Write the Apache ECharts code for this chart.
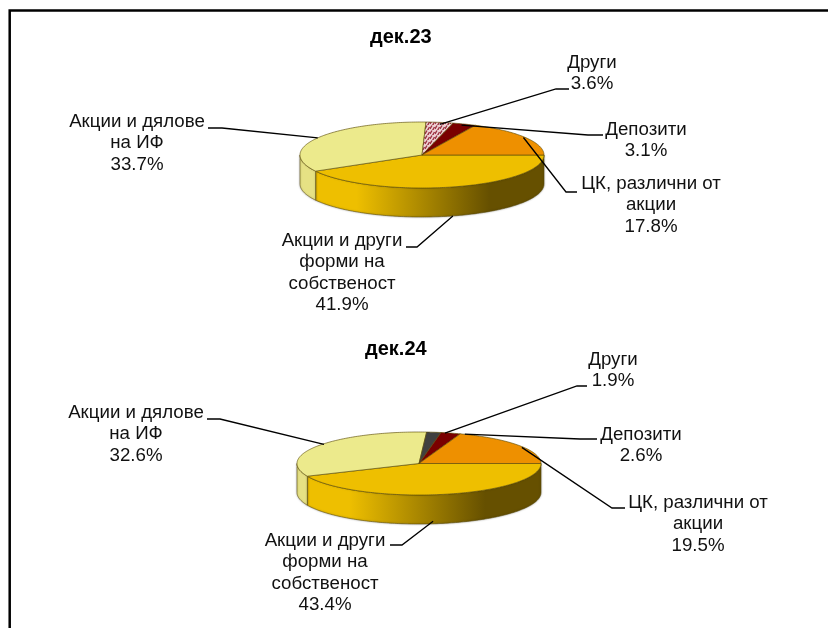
<!DOCTYPE html>
<html><head><meta charset="utf-8">
<style>html,body{margin:0;padding:0;background:#fff}#c{width:828px;height:628px}</style>
<script src="https://cdn.jsdelivr.net/npm/echarts@6/dist/echarts.min.js"></script>
</head><body><div id="c"></div>
<script>
const categories = ['Акции и други\nформи на\nсобственост','Акции и дялове\nна ИФ','Други','Депозити','ЦК, различни от\nакции'];
const titles = ['дек.23','дек.24'];
const values23 = [41.9,33.7,3.6,3.1,17.8];
const values24 = [43.4,32.6,1.9,2.6,19.5];

const FONT = '18.7px "Liberation Sans", Arial, sans-serif';
const LH = 21.5;

function hatch(){
  const s=5, c=document.createElement('canvas'); c.width=s; c.height=s;
  const g=c.getContext('2d');
  g.fillStyle='#efd4d6'; g.fillRect(0,0,s,s);
  g.strokeStyle='#9c3242'; g.lineWidth=1.4;
  g.beginPath(); g.moveTo(0,4); g.lineTo(2,0.5); g.moveTo(2.5,5.5); g.lineTo(4.5,2); g.stroke();
  return {image:c,repeat:'repeat'};
}
const wallGold = new echarts.graphic.LinearGradient(0,0,1,0,[
  {offset:0,color:'#EEBF00'},{offset:.18,color:'#EEBF00'},{offset:.76,color:'#665000'},{offset:1,color:'#665000'}]);

const pieStyle = [
  {top:['#EEBF00','#ECEA8C',hatch(),'#7A0000','#EE9000'], gridL:300, gridT:122, rx:244, ry:66,
   labels:[
    {x:342,y:230,lx:[406,417],ly:247,dx:0,dy:0},{x:137,y:111,lx:[208,222],ly:128,dx:0,dy:0},
    {x:592,y:52,lx:[569,556],ly:89,dx:0,dy:2},{x:646,y:119,lx:[603,588],ly:135,dx:-3,dy:1},{x:651,y:173,lx:[577,566],ly:192,dx:-2,dy:0}]},
  {top:['#EEBF00','#ECEA8C','#404040','#7A0000','#EE9000'], gridL:297, gridT:432, rx:244, ry:63,
   labels:[
    {x:325,y:530,lx:[390,402],ly:545,dx:-11,dy:-2},{x:136,y:402,lx:[207,220],ly:419,dx:5,dy:-1},
    {x:613,y:349,lx:[587,577],ly:386,dx:11,dy:1},{x:641,y:424,lx:[597,580],ly:439,dx:14,dy:1},{x:698,y:492,lx:[625,612],ly:508,dx:3,dy:2}]}
];
const wallFill = ['gold','#E6E184','#E6E184','#7A0000','#8a5a00'];
const DEPTH = 29;
const STROKE = 'rgba(92,76,8,.8)';

function pieSeries(i, values){
  const st = pieStyle[i];
  const total = values.reduce((a,b)=>a+b,0);
  const starts = []; values.reduce((a,b,k)=>(starts[k]=a,a+b),0);
  return {
    type:'custom', coordinateSystem:'cartesian2d', xAxisIndex:i, yAxisIndex:i, silent:true,
    data: values.map((v,k)=>[v,k]),
    renderItem(params, api){
      const k = api.value(1), v = api.value(0);
      const a0 = starts[k]/total*360, a1 = (starts[k]+v)/total*360;
      const P = d => { const r=d*Math.PI/180; return api.coord([Math.cos(r),-Math.sin(r)]); };
      const arc = (s,e) => { const o=[], n=Math.max(2,Math.ceil(Math.abs(e-s))); for(let j=0;j<=n;j++) o.push(P(s+(e-s)*j/n)); return o; };
      const ch = [];
      const w0=a0, w1=Math.min(a1,180);
      if(w1>w0){
        const top=arc(w0,w1), bot=top.map(p=>[p[0],p[1]+DEPTH]).reverse();
        ch.push({type:'polygon',z2:1,shape:{points:top.concat(bot)},
          style:{fill:wallFill[k]==='gold'?wallGold:wallFill[k],stroke:STROKE,lineWidth:.7,
                 shadowBlur:2,shadowColor:'rgba(0,0,0,.35)'}});
      }
      ch.push({type:'polygon',z2:2,shape:{points:[api.coord([0,0])].concat(arc(a0,a1))},
        style:{fill:st.top[k],stroke:STROKE,lineWidth:.8,lineJoin:'round'}});
      const m=(a0+a1)/2, e=P(m); if(Math.sin(m*Math.PI/180)>0) e[1]+=DEPTH;
      const L=st.labels[k];
      e[0]+=L.dx; e[1]+=L.dy;
      ch.push({type:'polyline',z2:5,shape:{points:[[L.lx[0],L.ly],[L.lx[1],L.ly],e]},
        style:{fill:null,stroke:'#000',lineWidth:1.3}});
      ch.push({type:'text',z2:6,style:{text:categories[k]+'\n'+v.toFixed(1)+'%',x:L.x,y:L.y,
        align:'center',verticalAlign:'top',font:FONT,lineHeight:LH,fill:'#111'}});
      return {type:'group',children:ch};
    }
  };
}

const grids = pieStyle.map(s=>({left:s.gridL,top:s.gridT,width:s.rx,height:s.ry}));
const axis = i => ({gridIndex:i,type:'value',min:-1,max:1,show:false});
const chart = echarts.init(document.getElementById('c'),null,{renderer:'canvas'});
chart.setOption({
  animation:false, backgroundColor:'#fff',
  title:[
    {text:titles[0],left:401.5,top:23,textAlign:'left',padding:0,textStyle:{fontFamily:'"Liberation Sans"',fontSize:20,fontWeight:'bold',color:'#000'},right:undefined},
    {text:titles[1],left:397,top:335,textAlign:'left',padding:0,textStyle:{fontFamily:'"Liberation Sans"',fontSize:20,fontWeight:'bold',color:'#000'}}
  ].map((t,i)=>Object.assign(t,{left:[370,365][i],top:[27,339][i]})),
  grid:grids,
  xAxis:[axis(0),axis(1)], yAxis:[axis(0),axis(1)],
  series:[pieSeries(0,values23),pieSeries(1,values24)],
  graphic:[{type:'polyline',silent:true,shape:{points:[[9.7,628],[9.7,10.5],[828,10.5]]},
    style:{fill:null,stroke:'#000',lineWidth:2.5}}]
});
</script></body></html>
